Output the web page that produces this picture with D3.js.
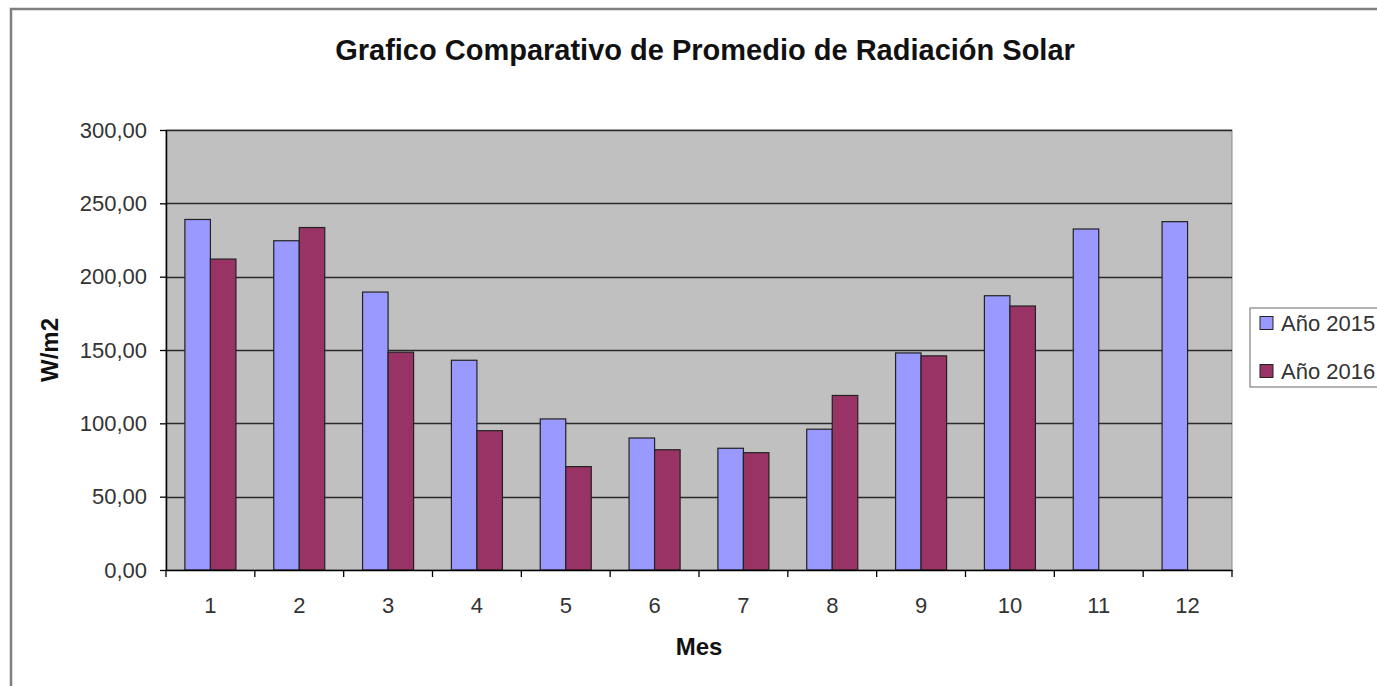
<!DOCTYPE html>
<html>
<head>
<meta charset="utf-8">
<script src="https://cdn.jsdelivr.net/npm/d3@7"></script>
<style>
  html, body { margin: 0; padding: 0; background: #fff; }
  svg { display: block; font-family: "Liberation Sans", Arial, sans-serif; }
</style>
</head>
<body>
<svg id="chart" width="1377" height="686"></svg>
<script>
const categories = ['1','2','3','4','5','6','7','8','9','10','11','12'];
const seriesNames = ['Año 2015', 'Año 2016'];
const values2015 = [239, 224.5, 189.5, 143, 103, 90, 83, 96, 148, 187, 232.5, 237.5];
const values2016 = [212, 233.5, 148.5, 95, 70.5, 82, 80, 119, 146, 180, null, null];
const yTicks = [0, 50, 100, 150, 200, 250, 300];
const seriesColors = ['#9999FF', '#993366'];

const titleText = 'Grafico Comparativo de Promedio de Radiación Solar';
const xTitle = 'Mes';
const yTitle = 'W/m2';

const svg = d3.select('#chart');
const plot = { left: 166, right: 1232, top: 130, bottom: 570 };

// outer frame
svg.append('rect')
  .attr('x', 11).attr('y', 9).attr('width', 1420).attr('height', 720)
  .attr('fill', '#fff').attr('stroke', '#7f7f7f').attr('stroke-width', 2.5);

const x0 = d3.scaleBand().domain(categories).range([plot.left, plot.right]).padding(0);
const bw = x0.bandwidth();
const x1 = d3.scaleBand().domain(seriesNames).range([bw * 0.2128, bw * 0.7872]).padding(0);
const y = d3.scaleLinear().domain([0, 300]).range([plot.bottom, plot.top]);

// plot area
svg.append('rect')
  .attr('x', plot.left).attr('y', plot.top)
  .attr('width', plot.right - plot.left).attr('height', plot.bottom - plot.top)
  .attr('fill', '#C0C0C0').attr('stroke', '#8a8a8a').attr('stroke-width', 1);

// gridlines
svg.append('g').selectAll('line').data(yTicks.filter(d => d > 0)).join('line')
  .attr('x1', plot.left).attr('x2', plot.right)
  .attr('y1', d => Math.round(y(d)) + 0.5).attr('y2', d => Math.round(y(d)) + 0.5)
  .attr('stroke', '#2a2a2a').attr('stroke-width', 1.3);

// bars
const data = categories.map((c, i) => ({ cat: c, vals: [values2015[i], values2016[i]] }));
const groups = svg.append('g').selectAll('g').data(data).join('g')
  .attr('transform', d => `translate(${x0(d.cat)},0)`);
groups.selectAll('rect')
  .data(d => d.vals.map((v, j) => ({ s: seriesNames[j], v, j })).filter(e => e.v != null))
  .join('rect')
  .attr('x', d => x1(d.s))
  .attr('width', x1.bandwidth())
  .attr('y', d => y(d.v))
  .attr('height', d => y(0) - y(d.v))
  .attr('fill', d => seriesColors[d.j])
  .attr('stroke', '#222').attr('stroke-width', 1.2);

// y axis
const fmt = d3.formatLocale({ decimal: ',', thousands: '.', grouping: [3], currency: ['', ''] }).format('.2f');
const yAxis = svg.append('g').attr('transform', `translate(${plot.left},0)`)
  .call(d3.axisLeft(y).tickValues(yTicks).tickFormat(fmt).tickSizeOuter(0).tickSizeInner(6).tickPadding(13));
yAxis.select('.domain').attr('stroke', '#000').attr('stroke-width', 1.5);
yAxis.selectAll('.tick line').attr('stroke', '#000').attr('stroke-width', 1.3);
yAxis.selectAll('.tick text')
  .attr('font-size', 22).attr('fill', '#333')
  .attr('font-family', '"Liberation Sans", Arial, sans-serif');

// x axis
const xAxis = svg.append('g').attr('transform', `translate(0,${plot.bottom})`)
  .call(d3.axisBottom(x0).tickSize(0).tickPadding(27));
xAxis.select('.domain').attr('stroke', '#000').attr('stroke-width', 1.5);
xAxis.selectAll('.tick text')
  .attr('font-size', 22).attr('fill', '#333')
  .attr('font-family', '"Liberation Sans", Arial, sans-serif');
// tick marks at category boundaries
const boundaries = categories.map(c => x0(c)).concat([plot.right]);
xAxis.append('g').selectAll('line').data(boundaries).join('line')
  .attr('x1', d => d).attr('x2', d => d)
  .attr('y1', 0).attr('y2', 7)
  .attr('stroke', '#000').attr('stroke-width', 1.3);

// title
svg.append('text')
  .attr('x', 705).attr('y', 60)
  .attr('text-anchor', 'middle')
  .attr('font-size', 29).attr('font-weight', 'bold').attr('fill', '#111')
  .text(titleText);

// axis titles
svg.append('text')
  .attr('x', (plot.left + plot.right) / 2).attr('y', 655)
  .attr('text-anchor', 'middle')
  .attr('font-size', 24).attr('font-weight', 'bold').attr('fill', '#111')
  .text(xTitle);

svg.append('text')
  .attr('transform', `translate(58,${(plot.top + plot.bottom) / 2}) rotate(-90)`)
  .attr('text-anchor', 'middle')
  .attr('font-size', 24).attr('font-weight', 'bold').attr('fill', '#111')
  .text(yTitle);

// legend
const legend = svg.append('g');
legend.append('rect')
  .attr('x', 1250).attr('y', 308).attr('width', 200).attr('height', 79)
  .attr('fill', '#fff').attr('stroke', '#808080').attr('stroke-width', 1.2);
const legendY = d3.scalePoint().domain(seriesNames).range([323, 371]);
const items = legend.selectAll('g.item').data(seriesNames).join('g').attr('class', 'item');
items.append('rect')
  .attr('x', 1260).attr('y', d => legendY(d) - 6.5)
  .attr('width', 13).attr('height', 13)
  .attr('fill', (d, i) => seriesColors[i]).attr('stroke', '#222').attr('stroke-width', 1);
items.append('text')
  .attr('x', 1281).attr('y', d => legendY(d) + 8)
  .attr('font-size', 22).attr('fill', '#333')
  .text(d => d);
</script>
</body>
</html>
